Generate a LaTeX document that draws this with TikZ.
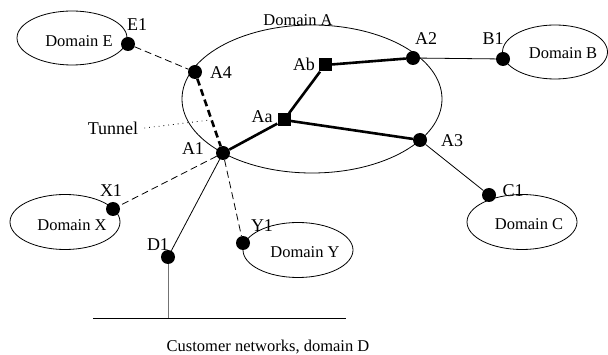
\documentclass[tikz,border=0pt]{standalone}
\usepackage{fontspec}
\setmainfont{Liberation Serif}
\usetikzlibrary{shapes.geometric}
\begin{document}
\begin{tikzpicture}[x=1pt,y=-1pt,
  gw/.style={circle,fill=black,inner sep=0pt,minimum size=14pt},
  sw/.style={rectangle,fill=black,inner sep=0pt,minimum size=13pt},
  dom/.style={ellipse,draw,line width=0.8pt,inner sep=0pt},
  lbl/.style={inner sep=0pt,font=\fontsize{18}{20}\selectfont},
  dtxt/.style={inner sep=0pt,font=\fontsize{16.5}{18}\selectfont},
  core/.style={line width=2.6pt},
  link/.style={line width=0.8pt},
  lnkd/.style={line width=0.8pt,dash pattern=on 7pt off 4pt}]
\useasboundingbox (0,0) rectangle (608,355);
\node[dom,minimum width=260pt,minimum height=148pt] (domA) at (312,99) {};
\node[dom,minimum width=110pt,minimum height=54pt] (domE) at (72,38) {};
\node[dom,minimum width=105pt,minimum height=54pt] (domB) at (555,52) {};
\node[dom,minimum width=110pt,minimum height=55pt] (domC) at (522,222) {};
\node[dom,minimum width=110pt,minimum height=55pt] (domX) at (65,222) {};
\node[dom,minimum width=110pt,minimum height=55pt] (domY) at (298,250) {};
\node[dtxt] (tA) at (298,20) {Domain A};
\node[dtxt] (tE) at (79,41) {Domain E};
\node[dtxt] (tB) at (563,53) {Domain B};
\node[dtxt] (tC) at (529,224) {Domain C};
\node[dtxt] (tX) at (72,225) {Domain X};
\node[dtxt] (tY) at (305,252) {Domain Y};
\node[dtxt] (tD) at (268,347) {Customer networks, domain D};
\coordinate (busL) at (93,318);
\coordinate (busR) at (346,318);
\coordinate (bus) at (168,318);
\coordinate (tun) at (210,120);
\node[gw] (A1) at (223,153) {};
\node[gw] (A2) at (413,58) {};
\node[gw] (A3) at (420,140) {};
\node[gw] (A4) at (195,72) {};
\node[sw] (Aa) at (284,120) {};
\node[sw] (Ab) at (325,65) {};
\node[gw] (E1) at (128,44) {};
\node[gw] (B1) at (503,59) {};
\node[gw] (C1) at (489,195) {};
\node[gw] (X1) at (113,209) {};
\node[gw] (D1) at (168,257) {};
\node[gw] (Y1) at (243,243) {};
\node[lbl] (lA1) at (193,149) {A1};
\node[lbl] (lA2) at (426,39) {A2};
\node[lbl] (lA3) at (452,141) {A3};
\node[lbl] (lA4) at (221,73) {A4};
\node[lbl] (lAa) at (262,117) {Aa};
\node[lbl] (lAb) at (304,64) {Ab};
\node[lbl] (lE1) at (137,25) {E1};
\node[lbl] (lB1) at (493,39) {B1};
\node[lbl] (lC1) at (513,191) {C1};
\node[lbl] (lX1) at (111,191) {X1};
\node[lbl] (lD1) at (158,245) {D1};
\node[lbl] (lY1) at (262,226) {Y1};
\node[lbl] (tunnel) at (113,128) {Tunnel};
\draw[core] (A1) -- (Aa) -- (Ab) -- (A2);
\draw[core] (Aa) -- (A3);
\draw[core,dash pattern=on 7pt off 4pt] (A4) -- (A1);
\draw[lnkd] (E1) -- (A4);
\draw[lnkd] (A1) -- (X1);
\draw[lnkd] (A1) -- (Y1);
\draw[link] (A1) -- (D1);
\draw[link] (A2) -- (B1);
\draw[link] (A3) -- (C1);
\draw[link,black!55] (D1) -- (bus);
\draw[link] (busL) -- (busR);
\draw[link,dash pattern=on 0.8pt off 4pt] ([xshift=6pt]tunnel.east) -- (tun);
\end{tikzpicture}
\end{document}
